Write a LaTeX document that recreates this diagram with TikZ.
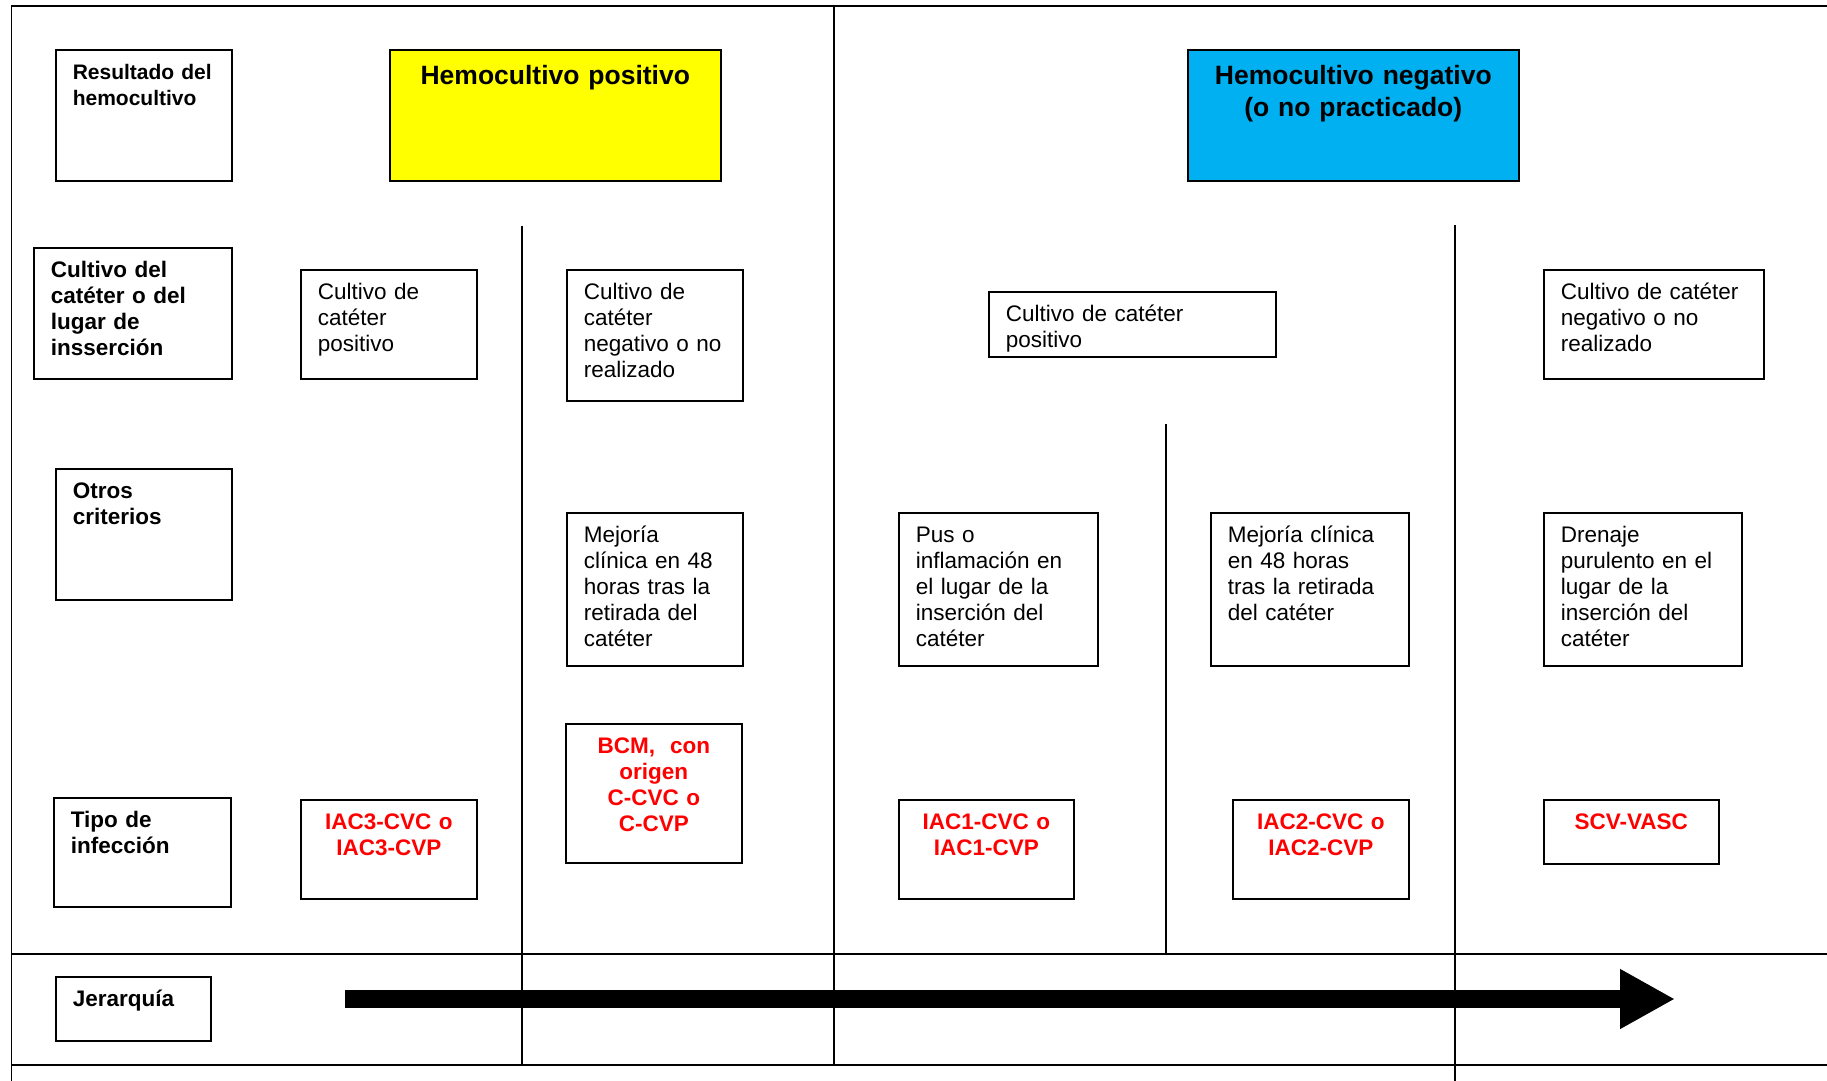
\documentclass[tikz,border=0pt]{standalone}
\usepackage{fontspec}
\setmainfont{Liberation Sans}
\usetikzlibrary{arrows.meta}
\definecolor{hemoyellow}{RGB}{255,255,0}
\definecolor{hemoblue}{RGB}{0,176,240}

\begin{document}
\begin{tikzpicture}[x=0.5pt,y=-0.5pt,
box/.style={draw,line width=0.8pt,anchor=north west,align=left,
    inner xsep=8.5pt,inner ysep=0pt,text height=15pt,
    font=\fontsize{11.25}{13}\selectfont},
rowlabel/.style={box,font=\fontsize{11.25}{13}\selectfont\bfseries},
infect/.style={box,align=center,text=red,font=\fontsize{11.25}{13}\selectfont\bfseries},
headbox/.style={box,align=center,text height=17.5pt,font=\fontsize{13.25}{16}\selectfont\bfseries},
rule/.style={line width=0.9pt}]
\useasboundingbox (0,0) rectangle (1827,1081);

% grid lines
\draw[rule] (1827,6) -- (11.5,6) -- (11.5,1081);
\draw[rule] (11.5,954) -- (1827,954);
\draw[rule] (11.5,1065) -- (1827,1065);
\draw[rule] (834,6) -- (834,1065);
\draw[rule] (522,226) -- (522,1065);
\draw[rule] (1166,424) -- (1166,954);
\draw[rule] (1455,225) -- (1455,1081);

% row labels
\node (resul) [rowlabel,font=\fontsize{10.5}{13}\selectfont\bfseries,text width=71pt,text depth=50.5pt] at (55,49) {Resultado del\\hemocultivo};
\node (cultlab) [rowlabel,text width=82pt,text depth=50.5pt] at (33,247) {Cultivo del\\catéter o del\\lugar de\\insserción};
\node (otros) [rowlabel,text width=71pt,text depth=50.5pt] at (55,468) {Otros\\criterios};
\node (tipo) [rowlabel,text width=71.5pt,text depth=39.5pt] at (53,797) {Tipo de\\infección};
\node (jerar) [rowlabel,text width=60.5pt,text depth=17pt] at (55,976) {Jerarquía};

% blood culture
\node (hpos) [headbox,fill=hemoyellow,text width=148.5pt,text depth=48pt] at (389,49) {Hemocultivo positivo};
\node (hneg) [headbox,fill=hemoblue,text width=148.5pt,text depth=48pt] at (1187,49) {Hemocultivo negativo\\(o no practicado)};

% catheter culture
\node (cpos1) [box,text width=71pt,text depth=39.5pt] at (300,269) {Cultivo de\\catéter\\positivo};
\node (cneg1) [box,text width=71pt,text depth=50.5pt] at (566,269) {Cultivo de\\catéter\\negativo o no\\realizado};
\node (cpos2) [box,text width=126.5pt,text depth=17.5pt] at (988,291) {Cultivo de catéter\\positivo};
\node (cneg2) [box,text width=93pt,text depth=39.5pt] at (1543,269) {Cultivo de catéter\\negativo o no\\realizado};

% other criteria
\node (mej1) [box,text width=71pt,text depth=61.5pt] at (566,512) {Mejoría\\clínica en 48\\horas tras la\\retirada del\\catéter};
\node (pus) [box,text width=82.5pt,text depth=61.5pt] at (898,512) {Pus o\\inflamación en\\el lugar de la\\inserción del\\catéter};
\node (mej2) [box,text width=82pt,text depth=61.5pt] at (1210,512) {Mejoría clínica\\en 48 horas\\tras la retirada\\del catéter};
\node (dren) [box,text width=82pt,text depth=61.5pt] at (1543,512) {Drenaje\\purulento en el\\lugar de la\\inserción del\\catéter};

% infection type
\node (iac3) [infect,text width=71pt,text depth=34.5pt] at (300,799) {IAC3-CVC o\\IAC3-CVP};
\node (bcm) [infect,text width=71pt,text depth=54.5pt] at (565,723) {BCM,~ con\\origen\\C-CVC o\\C-CVP};
\node (iac1) [infect,text width=70.5pt,text depth=34.5pt] at (898,799) {IAC1-CVC o\\IAC1-CVP};
\node (iac2) [infect,text width=71pt,text depth=34.5pt] at (1232,799) {IAC2-CVC o\\IAC2-CVP};
\node (scv) [infect,text width=70.5pt,text depth=17pt] at (1543,799) {SCV-VASC};

% hierarchy arrow
\coordinate (hstart) at (345,999);
\coordinate (hend) at (1675,999);
\draw[line width=9pt,-{Triangle[length=27.5pt,width=28pt]}] (hstart) -- (hend);
\end{tikzpicture}
\end{document}
